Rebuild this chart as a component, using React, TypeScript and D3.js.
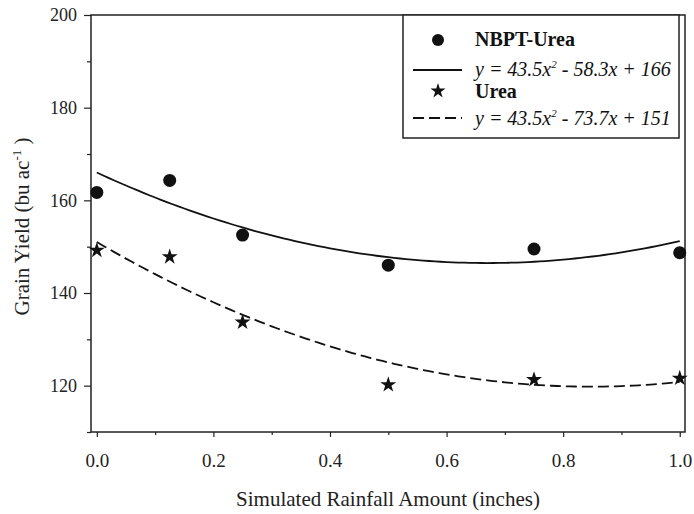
import React, { useEffect, useRef } from 'react';
import * as d3 from 'd3';

// Simulated rainfall (inches) at which yield was measured
const rainfall = [0, 0.125, 0.25, 0.5, 0.75, 1.0];
// Grain yield, bu/ac
const nbptUrea = [161.7, 164.3, 152.5, 146.0, 149.5, 148.7];
const urea = [149.2, 147.8, 133.7, 120.2, 121.3, 121.6];
// Quadratic fit coefficients [a, b, c] as printed in the legend
const nbptFit = [43.5, -58.3, 166];
const ureaFit = [43.5, -73.7, 151];

const xTicks = [0, 0.2, 0.4, 0.6, 0.8, 1.0];
const xMinorTicks = [0.1, 0.3, 0.5, 0.7, 0.9];
const yTicks = [120, 140, 160, 180, 200];
const yMinorTicks = [110, 130, 150, 170, 190];

const FONT = '"Liberation Serif", "Times New Roman", serif';

const App: React.FC = () => {
  const ref = useRef<SVGSVGElement>(null);

  useEffect(() => {
    if (!ref.current) return;
    const svg = d3.select(ref.current);
    svg.selectAll('*').remove();

    const left = 91;
    const right = 685;
    const top = 15;
    const bottom = 432;

    const x = d3.scaleLinear().domain([-0.01, 1.009]).range([left, right]);
    const y = d3.scaleLinear().domain([110, 200]).range([bottom, top]);

    // frame
    svg
      .append('rect')
      .attr('x', left)
      .attr('y', top)
      .attr('width', right - left)
      .attr('height', bottom - top)
      .attr('fill', 'none')
      .attr('stroke', '#222')
      .attr('stroke-width', 1.5);

    // x axis
    const gx = svg.append('g').attr('transform', `translate(0,${bottom})`);
    gx.call(
      d3
        .axisBottom(x)
        .tickValues(xTicks)
        .tickSize(5)
        .tickFormat((d) => d3.format('.1f')(d as number))
    );
    gx.append('g').call(d3.axisBottom(x).tickValues(xMinorTicks).tickSize(3).tickFormat(() => ''));
    gx.selectAll('.domain').remove();
    gx.selectAll('line').attr('stroke', '#222').attr('stroke-width', 1.2);
    gx.selectAll('text')
      .attr('dy', 0)
      .attr('y', 35)
      .style('font-family', FONT)
      .style('font-size', '19px')
      .style('fill', '#222');

    // y axis
    const gy = svg.append('g').attr('transform', `translate(${left},0)`);
    gy.call(d3.axisLeft(y).tickValues(yTicks).tickSize(7));
    gy.append('g').call(d3.axisLeft(y).tickValues(yMinorTicks).tickSize(4).tickFormat(() => ''));
    gy.selectAll('.domain').remove();
    gy.selectAll('line').attr('stroke', '#222').attr('stroke-width', 1.2);
    gy.selectAll('text')
      .attr('x', -14)
      .style('font-family', FONT)
      .style('font-size', '18px')
      .style('fill', '#222');

    // axis titles
    svg
      .append('text')
      .attr('x', (left + right) / 2)
      .attr('y', 506)
      .attr('text-anchor', 'middle')
      .style('font-family', FONT)
      .style('font-size', '21px')
      .style('fill', '#222')
      .text('Simulated Rainfall Amount (inches)');

    const yl = svg
      .append('text')
      .attr('transform', `translate(29,${(top + bottom) / 2 + 3}) rotate(-90)`)
      .attr('text-anchor', 'middle')
      .style('font-family', FONT)
      .style('font-size', '21px')
      .style('fill', '#222');
    yl.append('tspan').text('Grain Yield (bu ac');
    yl.append('tspan').attr('dy', -8).style('font-size', '13px').text('-1');
    yl.append('tspan').attr('dy', 8).text(' )');

    // fitted curves
    const xs = d3.range(0, 1.0001, 0.01);
    const curve = (c: number[]) =>
      d3
        .line<number>()
        .x((d) => x(d))
        .y((d) => y(c[0] * d * d + c[1] * d + c[2]))(xs);

    svg
      .append('path')
      .attr('d', curve(nbptFit))
      .attr('fill', 'none')
      .attr('stroke', '#111')
      .attr('stroke-width', 1.8);

    svg
      .append('path')
      .attr('d', curve(ureaFit))
      .attr('fill', 'none')
      .attr('stroke', '#111')
      .attr('stroke-width', 1.8)
      .attr('stroke-dasharray', '11,5');

    // markers
    svg
      .selectAll('.nbpt')
      .data(rainfall)
      .enter()
      .append('circle')
      .attr('cx', (d) => x(d))
      .attr('cy', (d, i) => y(nbptUrea[i]))
      .attr('r', 6.5)
      .attr('fill', '#111');

    const star = d3.symbol().type(d3.symbolStar).size(80);
    svg
      .selectAll('.urea')
      .data(rainfall)
      .enter()
      .append('path')
      .attr('d', star)
      .attr('transform', (d, i) => `translate(${x(d)},${y(urea[i])})`)
      .attr('fill', '#111');

    // legend
    const lg = svg.append('g');
    lg.append('rect')
      .attr('x', 403)
      .attr('y', top)
      .attr('width', 276)
      .attr('height', 123)
      .attr('fill', '#fff')
      .attr('stroke', '#222')
      .attr('stroke-width', 1.5);

    lg.append('circle').attr('cx', 438).attr('cy', 40).attr('r', 6).attr('fill', '#111');
    lg.append('line')
      .attr('x1', 413)
      .attr('x2', 462)
      .attr('y1', 70)
      .attr('y2', 70)
      .attr('stroke', '#111')
      .attr('stroke-width', 1.8);
    lg.append('path')
      .attr('d', d3.symbol().type(d3.symbolStar).size(70)())
      .attr('transform', 'translate(438,91)')
      .attr('fill', '#111');
    lg.append('line')
      .attr('x1', 413)
      .attr('x2', 462)
      .attr('y1', 118)
      .attr('y2', 118)
      .attr('stroke', '#111')
      .attr('stroke-width', 1.8)
      .attr('stroke-dasharray', '11,5');

    const label = (ty: number, txt: string) =>
      lg
        .append('text')
        .attr('x', 475)
        .attr('y', ty)
        .style('font-family', FONT)
        .style('font-size', '20px')
        .style('font-weight', 'bold')
        .style('fill', '#111')
        .text(txt);
    label(46, 'NBPT-Urea');
    label(98, 'Urea');

    const eq = (ty: number, c: number[]) => {
      const t = lg
        .append('text')
        .attr('x', 475)
        .attr('y', ty)
        .style('font-family', FONT)
        .style('font-size', '20px')
        .style('font-style', 'italic')
        .style('fill', '#111');
      t.append('tspan').text(`y = ${c[0]}x`);
      t.append('tspan').attr('dy', -8).style('font-size', '11px').text('2');
      t.append('tspan').attr('dy', 8).text(` - ${Math.abs(c[1])}x + ${c[2]}`);
    };
    eq(76, nbptFit);
    eq(125, ureaFit);
  }, []);

  return (
    <svg
      ref={ref}
      width={694}
      height={514}
      style={{ position: 'absolute', left: 0, top: 0, background: '#fff' }}
    />
  );
};

export default App;
